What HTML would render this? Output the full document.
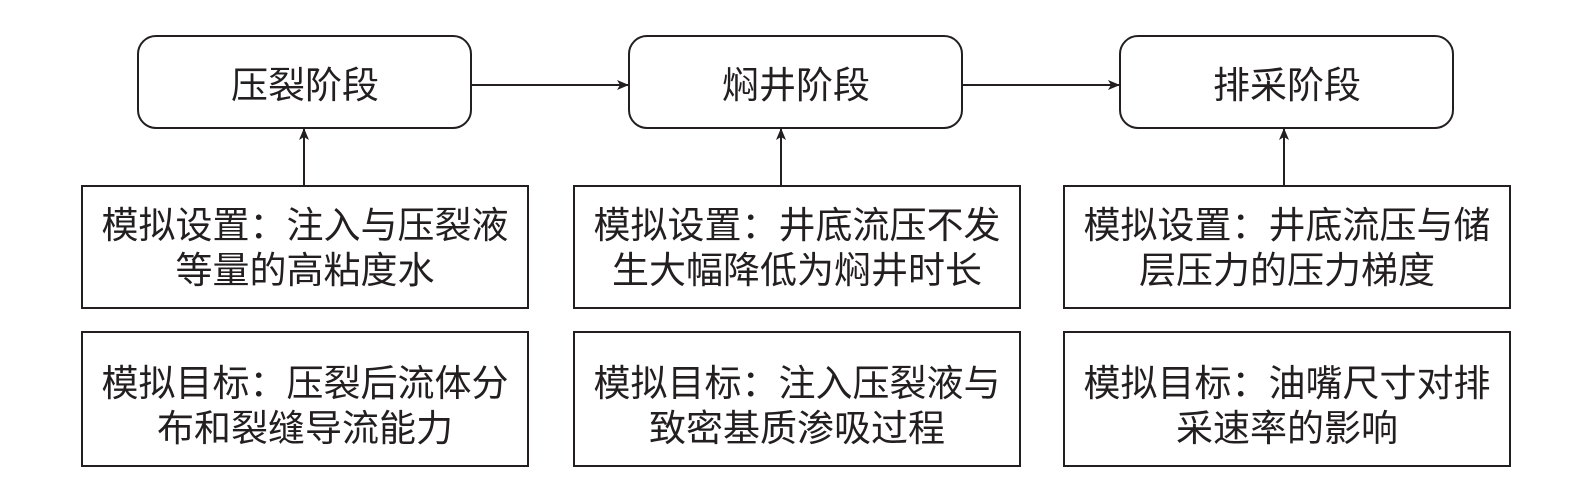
<!DOCTYPE html>
<html><head><meta charset="utf-8"><style>
body{margin:0;background:#fff;}
svg text{font-family:"Liberation Sans","Noto Sans CJK SC",sans-serif;font-size:37px;fill:#231f20;text-anchor:middle;}
</style></head><body>
<svg width="1572" height="487" viewBox="0 0 1572 487" xmlns="http://www.w3.org/2000/svg">
<defs><marker id="a" markerWidth="12" markerHeight="10" refX="11" refY="5" orient="auto" markerUnits="userSpaceOnUse"><path d="M0,0 L12,5 L0,10 L3,5 Z" fill="#231f20"/></marker></defs>
<g fill="none" stroke="#231f20" stroke-width="2">
<rect x="138" y="36" width="333" height="92" rx="18"/>
<rect x="629" y="36" width="333" height="92" rx="18"/>
<rect x="1120" y="36" width="333" height="92" rx="18"/>
<line x1="471" y1="85" x2="628" y2="85" marker-end="url(#a)"/>
<line x1="962" y1="85" x2="1119" y2="85" marker-end="url(#a)"/>
<line x1="304" y1="186" x2="304" y2="129" marker-end="url(#a)"/>
<line x1="781" y1="186" x2="781" y2="129" marker-end="url(#a)"/>
<line x1="1284" y1="186" x2="1284" y2="129" marker-end="url(#a)"/>
<rect x="82" y="186" width="446" height="122"/>
<rect x="574" y="186" width="446" height="122"/>
<rect x="1064" y="186" width="446" height="122"/>
<rect x="82" y="332" width="446" height="134"/>
<rect x="574" y="332" width="446" height="134"/>
<rect x="1064" y="332" width="446" height="134"/>
</g>
<text x="305" y="98">压裂阶段</text>
<text x="796" y="98">焖井阶段</text>
<text x="1287" y="98">排采阶段</text>
<text x="305" y="238">模拟设置：注入与压裂液</text>
<text x="305" y="283">等量的高粘度水</text>
<text x="797" y="238">模拟设置：井底流压不发</text>
<text x="797" y="283">生大幅降低为焖井时长</text>
<text x="1287" y="238">模拟设置：井底流压与储</text>
<text x="1287" y="283">层压力的压力梯度</text>
<text x="305" y="396">模拟目标：压裂后流体分</text>
<text x="305" y="441">布和裂缝导流能力</text>
<text x="797" y="396">模拟目标：注入压裂液与</text>
<text x="797" y="441">致密基质渗吸过程</text>
<text x="1287" y="396">模拟目标：油嘴尺寸对排</text>
<text x="1287" y="441">采速率的影响</text>
</svg>
</body></html>
